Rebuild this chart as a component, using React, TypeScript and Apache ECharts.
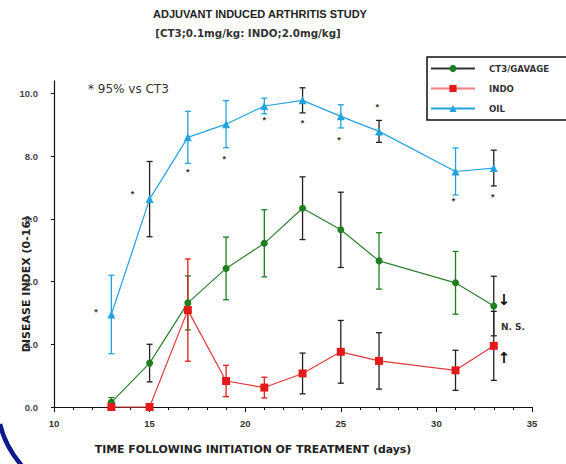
import React, { useEffect, useRef } from "react";
import * as echarts from "echarts";

const days = [13, 15, 17, 19, 21, 23, 25, 27, 31, 33];
const ct3Mean = [0.15, 1.4, 3.32, 4.42, 5.22, 6.34, 5.65, 4.66, 3.96, 3.22];
const ct3Err = [0.15, 0.6, 0.86, 1.0, 1.07, 1.0, 1.2, 0.9, 1.0, 0.95];
const indoMean = [0, 0, 3.09, 0.83, 0.62, 1.07, 1.76, 1.47, 1.17, 1.95];
const indoErr = [0, 0, 1.63, 0.5, 0.33, 0.65, 1.0, 0.9, 0.64, 1.1];
const oilMean = [2.95, 6.63, 8.6, 9.02, 9.6, 9.78, 9.27, 8.79, 7.51, 7.62];
const oilErr = [1.25, 1.2, 0.83, 0.75, 0.25, 0.4, 0.37, 0.35, 0.75, 0.57];
// significance asterisks [day, value]
const starX = [12.2, 14.1, 17.0, 18.9, 21.0, 23.0, 24.9, 26.9, 30.9, 32.95];
const starY = [3.02, 6.79, 7.5, 7.9, 9.15, 9.05, 8.53, 9.58, 6.58, 6.7];
const yTicks = [0, 2, 4, 6, 8, 10];
const yAxisTop = 10.4;
const xTicks = [10, 15, 20, 25, 30, 35];

// style: which error bars were printed black
const oilBlack = [0, 1, 0, 0, 0, 1, 0, 1, 0, 1];
const ct3Black = [0, 1, 0, 0, 0, 1, 1, 0, 0, 1];
const indoBlack = [0, 0, 0, 0, 0, 1, 1, 1, 1, 1];

const FONT = "'Liberation Sans', Arial, sans-serif";
const WIDE = "'DejaVu Sans', 'Liberation Sans', sans-serif";
const GREEN = "#1d7f1d";
const RED = "#e41a1a";
const BLUE = "#22a3df";

function errSeries(name: string, mean: number[], err: number[], color: string, black: number[]) {
  return {
    type: "custom",
    name: name + "-err",
    z: 2,
    clip: false,
    data: days.map((d, i) => [d, mean[i] - err[i], mean[i] + err[i]]),
    renderItem: (params: any, api: any) => {
      const x = api.value(0);
      const lo = api.value(1);
      const hi = api.value(2);
      if (hi - lo <= 0) return null;
      const t = api.coord([x, hi]);
      const b = api.coord([x, lo]);
      const c = black[params.dataIndex] ? "#222" : color;
      const w = 3;
      const st = { stroke: c, lineWidth: 1.3 };
      return {
        type: "group",
        children: [
          { type: "line", shape: { x1: t[0], y1: t[1], x2: b[0], y2: b[1] }, style: st },
          { type: "line", shape: { x1: t[0] - w, y1: t[1], x2: t[0] + w, y2: t[1] }, style: st },
          { type: "line", shape: { x1: b[0] - w, y1: b[1], x2: b[0] + w, y2: b[1] }, style: st },
        ],
      };
    },
  };
}

function txt(x: number, y: number, text: string, size: number, opts: any = {}) {
  return {
    type: "text",
    x,
    y,
    rotation: opts.rotation || 0,
    style: {
      text,
      fontSize: size,
      fontWeight: opts.weight || "bold",
      fontFamily: opts.family || WIDE,
      fill: opts.fill || "#222",
      align: opts.align || "center",
      verticalAlign: "middle",
    },
  };
}

export default function App() {
  const ref = useRef<HTMLDivElement>(null);
  useEffect(() => {
    document.body.style.margin = "0";
    const chart = echarts.init(ref.current!, null, { renderer: "svg" });
    const option: any = {
      animation: false,
      backgroundColor: "#fff",
      grid: { left: 54, right: 34, top: 80.9, bottom: 57 },
      xAxis: {
        type: "value",
        min: xTicks[0],
        max: xTicks[xTicks.length - 1],
        interval: 5,
        axisLine: { lineStyle: { color: "#111", width: 1.2 } },
        axisTick: { length: 5, lineStyle: { color: "#111" } },
        minorTick: { show: true, splitNumber: 5, length: 3, lineStyle: { color: "#111" } },
        splitLine: { show: false },
        axisLabel: { fontSize: 9.5, fontFamily: FONT, fontWeight: "bold", color: "#333", margin: 11 },
      },
      yAxis: {
        type: "value",
        min: yTicks[0],
        max: yAxisTop,
        axisLine: { show: true, lineStyle: { color: "#111", width: 1.2 } },
        axisTick: { show: true, length: 3, customValues: yTicks, lineStyle: { color: "#111" } },
        splitLine: { show: false },
        axisLabel: {
          fontSize: 9.5,
          fontFamily: FONT,
          fontWeight: "bold",
          color: "#444",
          margin: 16,
          customValues: yTicks,
          formatter: (v: number) => v.toFixed(1),
        },
      },
      legend: {
        orient: "vertical",
        left: 427,
        top: 57,
        padding: [7, 90, 7, 3],
        itemWidth: 44,
        itemHeight: 9,
        itemGap: 11,
        borderColor: "#111",
        borderWidth: 1.5,
        textStyle: { fontSize: 8.6, fontFamily: WIDE, fontWeight: "bold", color: "#333", padding: [0, 0, 0, 9] },
        data: [
          { name: "CT3/GAVAGE", lineStyle: { color: "#333" } },
          { name: "INDO", lineStyle: { color: "#f08080" } },
          { name: "OIL" },
        ],
      },
      series: [
        errSeries("CT3/GAVAGE", ct3Mean, ct3Err, GREEN, ct3Black),
        errSeries("INDO", indoMean, indoErr, RED, indoBlack),
        errSeries("OIL", oilMean, oilErr, BLUE, oilBlack),
        {
          type: "line",
          name: "CT3/GAVAGE",
          z: 3,
          clip: false,
          data: days.map((d, i) => [d, ct3Mean[i]]),
          symbol: "circle",
          symbolSize: 7,
          itemStyle: { color: GREEN },
          lineStyle: { color: "#2f7f2f", width: 1.2 },
        },
        {
          type: "line",
          name: "INDO",
          z: 3,
          clip: false,
          data: days.map((d, i) => [d, indoMean[i]]),
          symbol: "rect",
          symbolSize: 8,
          itemStyle: { color: RED },
          lineStyle: { color: "#e03a3a", width: 1.2 },
        },
        {
          type: "line",
          name: "OIL",
          z: 3,
          clip: false,
          data: days.map((d, i) => [d, oilMean[i]]),
          symbol: "triangle",
          symbolSize: 8,
          itemStyle: { color: BLUE },
          lineStyle: { color: BLUE, width: 1.2 },
        },
        {
          type: "custom",
          name: "stars",
          z: 4,
          clip: false,
          data: starX.map((x, i) => [x, starY[i]]),
          renderItem: (_p: any, api: any) => {
            const c = api.coord([api.value(0), api.value(1)]);
            return {
              type: "text",
              x: c[0],
              y: c[1],
              style: {
                text: "*",
                fontSize: 9,
                fontFamily: FONT,
                fontWeight: "bold",
                fill: "#333",
                align: "center",
                verticalAlign: "middle",
              },
            };
          },
        },
      ],
      graphic: [
        txt(260, 14, "ADJUVANT INDUCED ARTHRITIS STUDY", 11, { family: FONT }),
        txt(248, 33, "[CT3;0.1mg/kg: INDO;2.0mg/kg]", 10.3, { fill: "#333" }),
        txt(88, 89, "* 95% vs CT3", 12, { align: "left", weight: "normal", fill: "#333" }),
        txt(253, 449, "TIME FOLLOWING INITIATION OF TREATMENT (days)", 10.9),
        txt(26, 284, "DISEASE INDEX (0-16)", 11, { rotation: Math.PI / 2 }),
        txt(501, 327, "N. S.", 9, { align: "left", fill: "#333" }),
        txt(504, 300, "↓", 15, { fill: "#111" }),
        txt(504, 358, "↑", 15, { fill: "#111" }),
        {
          type: "bezierCurve",
          shape: { x1: 0, y1: 424, cpx1: 5, cpy1: 446, x2: 22, y2: 466 },
          style: { stroke: "#0d1a8c", lineWidth: 4.5, fill: "none" },
        },
      ],
    };
    chart.setOption(option);
    return () => chart.dispose();
  }, []);
  return <div ref={ref} style={{ width: 566, height: 464 }} />;
}
